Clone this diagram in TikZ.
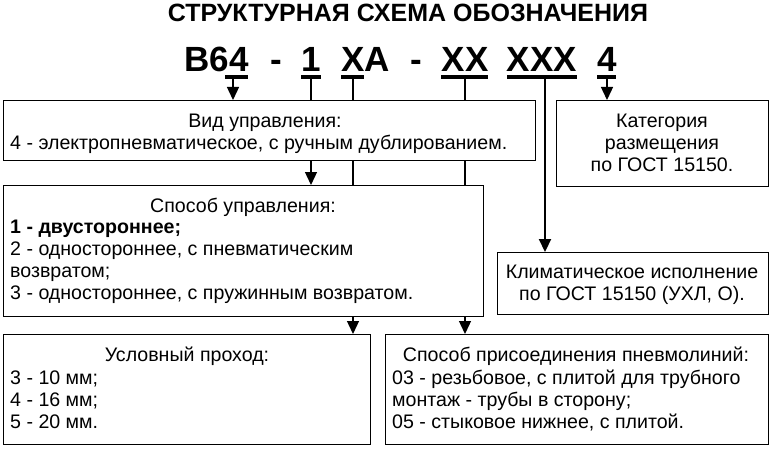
\documentclass[tikz,border=0pt]{standalone}
\usepackage{fontspec}
\setmainfont{Liberation Sans}
\usetikzlibrary{arrows.meta}
\begin{document}
\begin{tikzpicture}[x=1pt,y=-1pt,
  box/.style={draw,line width=0.9pt,fill=white,anchor=north west,inner sep=0pt},
  txt/.style={font=\fontsize{19.6}{22}\selectfont,inner sep=0pt,anchor=base west},
  ctxt/.style={font=\fontsize{19.6}{22}\selectfont,inner sep=0pt,anchor=base},
  code/.style={font=\fontsize{35}{38}\bfseries\selectfont,inner sep=0pt,anchor=base},
  ul/.style={line width=3.5pt},
  ln/.style={line width=1.3pt},
  arr/.style={line width=1.3pt,-{Triangle[length=13pt,width=12pt]}}]
\useasboundingbox (0,0) rectangle (774,452);
\node[font=\fontsize{25}{28}\bfseries\selectfont,anchor=base] (title) at (408,22) {СТРУКТУРНАЯ СХЕМА ОБОЗНАЧЕНИЯ};
% code
\node[code,anchor=base east] (c1) at (249,72) {B64};
\node[code] (d1) at (276,72) {-};
\node[code] (c2) at (311,72) {1};
\node[code,anchor=base west] (c3) at (341,72) {XA};
\node[code] (d2) at (416,72) {-};
\node[code] (c4) at (465,72) {XX};
\node[code] (c5) at (542,72) {XXX};
\node[code] (c6) at (607,72) {4};
\foreach \a/\b/\n in {225/248/u1,301/321/u2,341/364/u3,441/488/u4,507/577/u5,597/616/u6}
  {\draw[ul] (\a,77) -- (\b,77); \coordinate (\n) at ({(\a+\b)/2},77);}
% connectors (behind boxes)
\coordinate (p2) at (311,77); \coordinate (p3) at (353,77); \coordinate (p4) at (465,77);
\draw[ln] (p2) -- (311,160);
\draw[ln] (p3) -- (353,322);
\draw[ln] (p4) -- (465,322);
% boxes
\node[box,minimum width=532,minimum height=60] (b1) at (3,100) {};
\node[box,minimum width=212,minimum height=86] (cat) at (556,100) {};
\node[box,minimum width=480,minimum height=131] (b2) at (3,185) {};
\node[box,minimum width=271,minimum height=62] (clim) at (497,252) {};
\node[box,minimum width=367,minimum height=110] (b3) at (3,334) {};
\node[box,minimum width=383,minimum height=110] (b4) at (385,334) {};
% arrows
\draw[arr] (233,77) -- (b1.north -| 233,0);
\draw[arr] (311,160) -- (b2.north -| 311,0);
\draw[arr] (353,316) -- (b3.north -| 353,0);
\draw[arr] (465,316) -- (b4.north -| 465,0);
\draw[arr,line width=2.2pt] (545,77) -- (clim.north -| 545,0);
\draw[arr] (607,77) -- (cat.north -| 607,0);
% texts
\node[ctxt] (t11) at (265,127) {Вид управления:};
\node[txt] (t12) at (10,149) {4 - электропневматическое, с ручным дублированием.};
\node[ctxt] (tc1) at (662,127) {Категория};
\node[ctxt] (tc2) at (662,149) {размещения};
\node[ctxt] (tc3) at (662,171) {по ГОСТ 15150.};
\node[ctxt] (t21) at (243,212) {Способ управления:};
\node[txt,font=\fontsize{19.6}{22}\bfseries\selectfont] (t22) at (10,233) {1 - двустороннее;};
\node[txt] (t23) at (10,255) {2 - одностороннее, с пневматическим};
\node[txt] (t24) at (10,277) {возвратом;};
\node[txt] (t25) at (10,299) {3 - одностороннее, с пружинным возвратом.};
\node[ctxt] (tk1) at (632,278) {Климатическое исполнение};
\node[ctxt] (tk2) at (632,300) {по ГОСТ 15150 (УХЛ, О).};
\node[ctxt] (t31) at (187,361) {Условный проход:};
\node[txt] (t32) at (10,384) {3 - 10 мм;};
\node[txt] (t33) at (10,406) {4 - 16 мм;};
\node[txt] (t34) at (10,428) {5 - 20 мм.};
\node[ctxt] (t41) at (576,361) {Способ присоединения пневмолиний:};
\node[txt] (t42) at (392,384) {03 - резьбовое, с плитой для трубного};
\node[txt] (t43) at (392,406) {монтаж - трубы в сторону;};
\node[txt] (t44) at (392,428) {05 - стыковое нижнее, с плитой.};
\end{tikzpicture}
\end{document}
